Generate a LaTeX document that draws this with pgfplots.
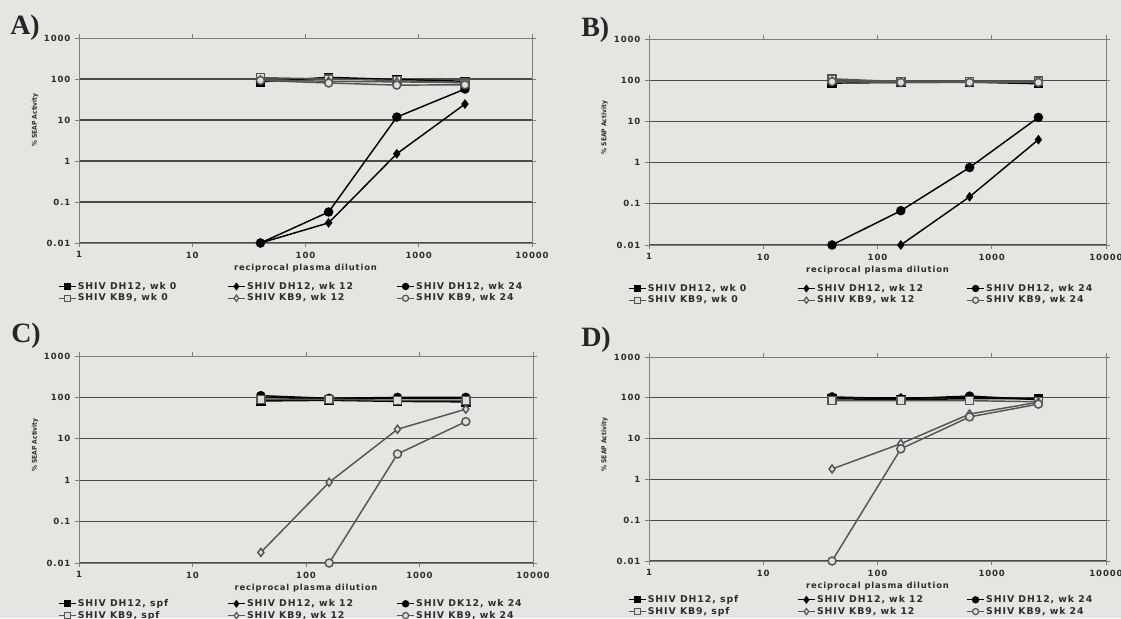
\documentclass[border=0pt]{standalone}
\usepackage{pgfplots}
\pgfplotsset{compat=1.18}
\usepackage{fontspec}
\setmainfont{DejaVu Sans}
\newfontfamily\lbl[LetterSpace=10]{DejaVu Sans}
\newfontfamily\ylb{DejaVu Sans Condensed}
\newfontfamily\panelfont{Liberation Serif}
\definecolor{bg}{RGB}{229,229,226}
\definecolor{gridc}{RGB}{75,75,75}
\definecolor{framec}{RGB}{125,125,125}
\definecolor{txt}{RGB}{45,45,45}
\definecolor{kb}{RGB}{85,85,85}
\definecolor{kbfill}{RGB}{222,222,222}
\tikzset{
 dhA/.style={black, mark=square*, mark size=3pt, mark options={fill=black, solid}},
 dhB/.style={black, mark=diamond*, mark size=2.8pt, mark options={fill=black, solid}},
 dhC/.style={black, mark=*, mark size=3pt, mark options={fill=black, solid}},
 kbA/.style={kb, mark=square*, mark size=3pt, mark options={fill=kbfill, draw=kb, solid}},
 kbB/.style={kb, mark=diamond*, mark size=3pt, mark options={fill=kbfill, draw=kb, solid}},
 kbC/.style={kb, mark=*, mark size=3pt, mark options={fill=kbfill, draw=kb, solid}},
}
\pgfplotsset{
 legend image code/.code={\draw[mark repeat=2,mark phase=2,#1, line width=0.9pt, mark size=2.3pt]
     plot coordinates {(0pt,0pt) (6.5pt,0pt) (13pt,0pt)};},
 every axis/.append style={
  scale only axis,
  xmin=1, xmax=10000, ymin=0.01, ymax=1000,
  xtick={1,10,100,1000,10000}, xticklabels={1,10,100,1000,10000},
  ytick={0.01,0.1,1,10,100}, yticklabels={0.01,0.1,1,10,100},
  extra y ticks={1000}, extra y tick labels={1000},
  extra y tick style={grid=none},
  xminorticks=false, yminorticks=false,
  ymajorgrids, major grid style={gridc, line width=0.9pt},
  axis line style={framec, line width=0.6pt},
  tick align=outside, major tick length=3pt,
  tick style={framec, line width=0.6pt},
  ticklabel style={font=\lbl\bfseries\fontsize{6.4}{7}\selectfont, text=txt},
  xlabel={reciprocal plasma dilution},
  xlabel style={font=\lbl\bfseries\fontsize{6.3}{7}\selectfont, text=txt,
    at={(axis description cs:0.5,0)}, anchor=center, yshift=-18.75pt},
  ylabel={\% SEAP Activity},
  ylabel style={font=\ylb\bfseries\fontsize{5}{6}\selectfont, text=txt,
    at={(axis description cs:-0.097,0.57)}, anchor=center},
  clip=false,
  legend columns=3,
  legend cell align=left,
  legend style={draw=none, fill=none, inner sep=0pt, row sep=0pt,
    font=\lbl\bfseries\fontsize{7}{8}\selectfont, text=txt,
    at={(axis description cs:0,0)}, anchor=north west, xshift=-16pt, yshift=-28pt,
    nodes={inner sep=1pt}},
 },
 every axis plot/.append style={line width=1.1pt},
}
\newcommand{\lt}[1]{\makebox[111pt][l]{#1}}
\begin{document}
\begin{tikzpicture}
\fill[bg] (0,0) rectangle (840.75pt,463.5pt);
\useasboundingbox (0,0) rectangle (840.75pt,463.5pt);
\node[anchor=base west, inner sep=0pt, font=\panelfont\bfseries\fontsize{21}{21}\selectfont, text=black!85] at (7.5pt,437.25pt) {A)};
\node[anchor=base west, inner sep=0pt, font=\panelfont\bfseries\fontsize{21}{21}\selectfont, text=black!85] at (435.75pt,435.75pt) {B)};
\node[anchor=base west, inner sep=0pt, font=\panelfont\bfseries\fontsize{21}{21}\selectfont, text=black!85] at (8.25pt,206.25pt) {C)};
\node[anchor=base west, inner sep=0pt, font=\panelfont\bfseries\fontsize{21}{21}\selectfont, text=black!85] at (435.75pt,203.25pt) {D)};

% Panel A
\begin{loglogaxis}[at={(59.25pt,281.25pt)}, anchor=south west, width=339.75pt, height=153.75pt,
  ylabel style={at={(axis description cs:-0.097,0.6)}}]
\addplot[dhA] coordinates {(40,85) (160,110) (640,97) (2560,88)};
\addlegendentry{\lt{SHIV DH12, wk 0}}
\addplot[dhB] coordinates {(40,0.01) (160,0.031) (640,1.5) (2560,24.5)};
\addlegendentry{\lt{SHIV DH12, wk 12}}
\addplot[dhC] coordinates {(40,0.01) (160,0.057) (640,11.8) (2560,57)};
\addlegendentry{\lt{SHIV DH12, wk 24}}
\addplot[kbA] coordinates {(40,108) (160,100) (640,92) (2560,80)};
\addlegendentry{\lt{SHIV KB9, wk 0}}
\addplot[kbB] coordinates {(40,95) (160,88) (640,85) (2560,82)};
\addlegendentry{\lt{SHIV KB9, wk 12}}
\addplot[kbC] coordinates {(40,92) (160,80) (640,71) (2560,72)};
\addlegendentry{\lt{SHIV KB9, wk 24}}
\end{loglogaxis}

% Panel B
\begin{loglogaxis}[at={(486.75pt,279.75pt)}, anchor=south west, width=342.75pt, height=154.5pt]
\addplot[dhA] coordinates {(40,85) (160,88) (640,90) (2560,82)};
\addlegendentry{\lt{SHIV DH12, wk 0}}
\addplot[dhB] coordinates {(160,0.01) (640,0.148) (2560,3.6)};
\addlegendentry{\lt{SHIV DH12, wk 12}}
\addplot[dhC] coordinates {(40,0.01) (160,0.068) (640,0.76) (2560,12.5)};
\addlegendentry{\lt{SHIV DH12, wk 24}}
\addplot[kbA] coordinates {(40,108) (160,92) (640,92) (2560,95)};
\addlegendentry{\lt{SHIV KB9, wk 0}}
\addplot[kbB] coordinates {(40,95) (160,90) (640,90) (2560,90)};
\addlegendentry{\lt{SHIV KB9, wk 12}}
\addplot[kbC] coordinates {(40,92) (160,88) (640,88) (2560,88)};
\addlegendentry{\lt{SHIV KB9, wk 24}}
\end{loglogaxis}

% Panel C
\begin{loglogaxis}[at={(59.25pt,41.25pt)}, anchor=south west, width=340.5pt, height=155.25pt,
  legend style={yshift=2pt}]
\addplot[dhA] coordinates {(40,82) (160,85) (640,80) (2560,78)};
\addlegendentry{\lt{SHIV DH12, spf}}
\addplot[dhB] coordinates {(40,100) (160,92) (640,95) (2560,95)};
\addlegendentry{\lt{SHIV DH12, wk 12}}
\addplot[dhC] coordinates {(40,110) (160,95) (640,100) (2560,100)};
\addlegendentry{\lt{SHIV DK12, wk 24}}
\addplot[kbA] coordinates {(40,90) (160,90) (640,85) (2560,85)};
\addlegendentry{\lt{SHIV KB9, spf}}
\addplot[kbB] coordinates {(40,0.018) (160,0.89) (640,17) (2560,52)};
\addlegendentry{\lt{SHIV KB9, wk 12}}
\addplot[kbC] coordinates {(160,0.01) (640,4.3) (2560,26)};
\addlegendentry{\lt{SHIV KB9, wk 24}}
\end{loglogaxis}

% Panel D
\begin{loglogaxis}[at={(486.75pt,42.75pt)}, anchor=south west, width=342.75pt, height=153pt,
  legend style={yshift=3.5pt}]
\addplot[dhA] coordinates {(40,95) (160,90) (640,95) (2560,95)};
\addlegendentry{\lt{SHIV DH12, spf}}
\addplot[dhB] coordinates {(40,100) (160,100) (640,100) (2560,95)};
\addlegendentry{\lt{SHIV DH12, wk 12}}
\addplot[dhC] coordinates {(40,105) (160,95) (640,110) (2560,90)};
\addlegendentry{\lt{SHIV DH12, wk 24}}
\addplot[kbA] coordinates {(40,85) (160,85) (640,85) (2560,80)};
\addlegendentry{\lt{SHIV KB9, spf}}
\addplot[kbB] coordinates {(40,1.8) (160,7.5) (640,40) (2560,78)};
\addlegendentry{\lt{SHIV KB9, wk 12}}
\addplot[kbC] coordinates {(40,0.01) (160,5.6) (640,34) (2560,70)};
\addlegendentry{\lt{SHIV KB9, wk 24}}
\end{loglogaxis}
\end{tikzpicture}
\end{document}
